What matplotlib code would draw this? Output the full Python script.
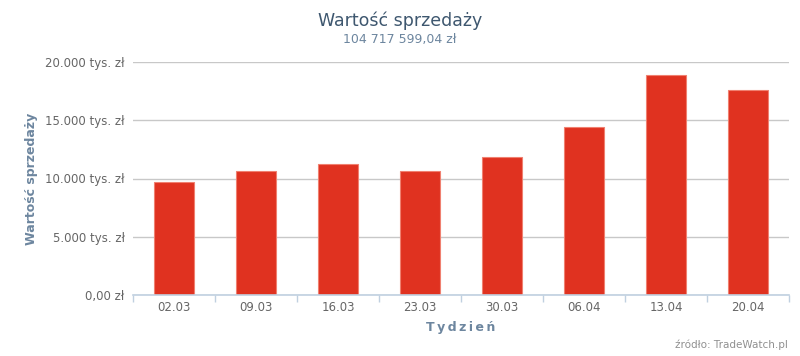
import matplotlib
matplotlib.use('Agg')
import matplotlib.pyplot as plt
from matplotlib.ticker import FuncFormatter
import numpy as np

# weekly sales (tys. zł)
weeks = ['02.03', '09.03', '16.03', '23.03', '30.03', '06.04', '13.04', '20.04']
sales = [9700, 10640, 11240, 10640, 11840, 14420, 18880, 17600]
total_label = '104 717 599,04 zł'
y_ticks = [0, 5000, 10000, 15000, 20000]

plt.rcParams['font.family'] = ['DejaVu Sans']

fig = plt.figure(figsize=(8, 3.56), dpi=100)
ax = fig.add_axes([133 / 800, 1 - 295 / 356, 656 / 800, 233 / 356])

x = np.arange(len(weeks))
ax.bar(x, sales, width=0.49, color='#E03220', edgecolor='#F08070', linewidth=0.8, zorder=3)

ax.set_xlim(-0.5, len(weeks) - 0.5)
ax.set_ylim(0, 20000)
ax.set_yticks(y_ticks)


def fmt(v, pos):
    if v == 0:
        return '0,00 zł'
    return '{:,.0f}'.format(v).replace(',', '.') + ' tys. zł'


ax.yaxis.set_major_formatter(FuncFormatter(fmt))
ax.grid(axis='y', color='#C8C8C8', linewidth=1, zorder=0)
ax.set_axisbelow(True)

for s in ['top', 'right', 'left']:
    ax.spines[s].set_visible(False)
ax.spines['bottom'].set_color('#C0D0E0')
ax.spines['bottom'].set_linewidth(1.2)
ax.spines['bottom'].set_zorder(4)

ax.tick_params(axis='y', length=0, pad=6, labelsize=8.5, labelcolor='#666666')
ax.set_xticks(x)
ax.set_xticklabels(weeks)
ax.tick_params(axis='x', length=0, pad=4, labelsize=8.5, labelcolor='#666666')
ax.set_xticks(np.arange(len(weeks) + 1) - 0.5, minor=True)
ax.tick_params(axis='x', which='minor', length=5, color='#C0D0E0', width=1)

ax.set_xlabel('\u2009'.join('Tydzień'), fontsize=9, fontweight='bold', color='#6D869F', labelpad=5)
ax.set_ylabel('Wartość sprzedaży', fontsize=9, fontweight='bold', color='#6D869F', labelpad=5)

fig.text(0.5, 1 - 21 / 356, 'Wartość sprzedaży', ha='center', va='center', fontsize=12.5, color='#3E576F')
fig.text(0.5, 1 - 40 / 356, total_label, ha='center', va='center', fontsize=9, color='#6D869F')
fig.text(788 / 800, 1 - 345 / 356, 'źródło: TradeWatch.pl', ha='right', va='center', fontsize=7.5, color='#909090')

fig.savefig('out.png', dpi=100, facecolor='white')
